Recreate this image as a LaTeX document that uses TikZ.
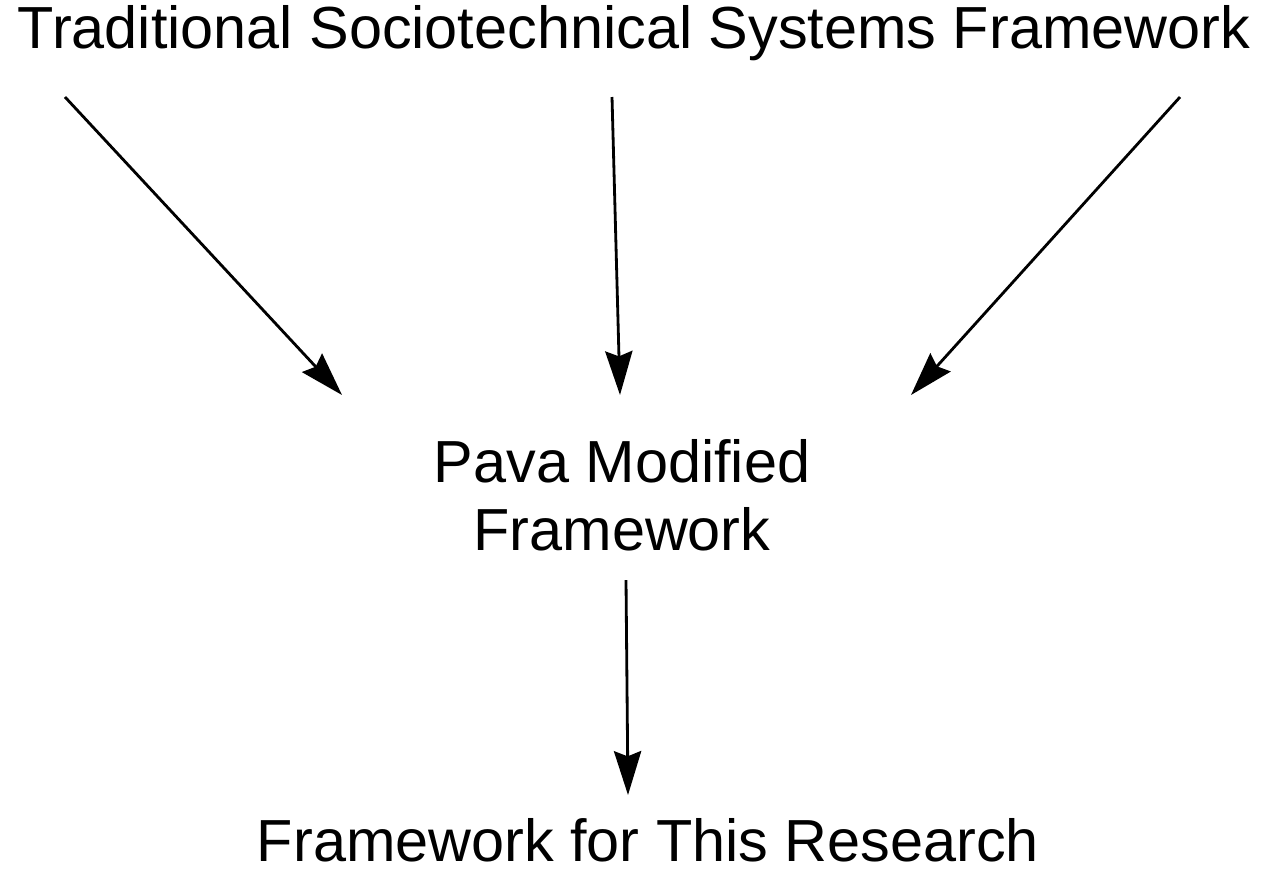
\documentclass[tikz,border=0pt]{standalone}
\usepackage{fontspec}
\setmainfont{Liberation Sans}
\usetikzlibrary{arrows.meta}
\begin{document}
\begin{tikzpicture}[x=0.02cm,y=-0.02cm,
  lbl/.style={font=\fontsize{33.8}{38.5}\selectfont, inner sep=0pt, align=center},
  arr/.style={line width=1.6pt, -{Stealth[length=25pt,width=15.5pt,inset=3pt]}}]
\useasboundingbox (0,0) rectangle (1267,877);
\node[lbl] (top) at (634,33) {Traditional Sociotechnical Systems Framework};
\node[lbl] (mid) at (622,495) {Pava Modified\\Framework};
\node[lbl] (bot) at (648,840) {Framework for This Research};
\coordinate (s1) at (65,97);
\coordinate (e1) at (342,395);
\coordinate (s2) at (612,97);
\coordinate (e2) at (620,395);
\coordinate (s3) at (1180,97);
\coordinate (e3) at (911,395);
\coordinate (s4) at (626,580);
\coordinate (e4) at (628,795);
\draw[arr] (s1) -- (e1);
\draw[arr] (s2) -- (e2);
\draw[arr] (s3) -- (e3);
\draw[arr] (s4) -- (e4);
\end{tikzpicture}
\end{document}
